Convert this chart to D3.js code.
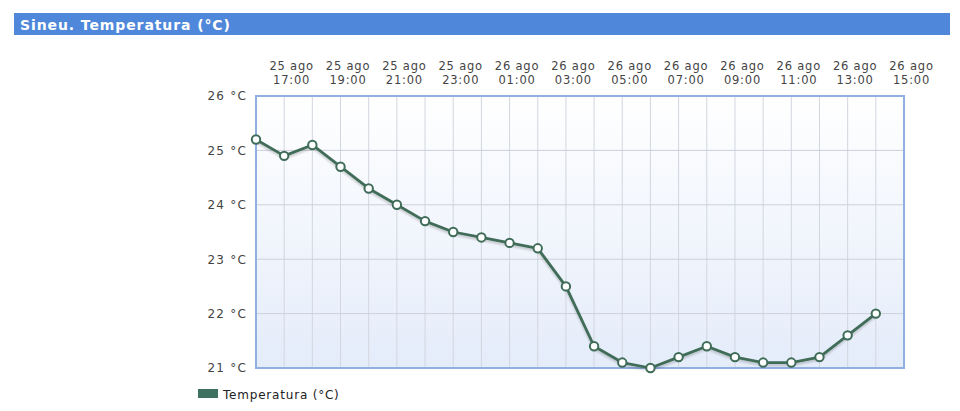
<!DOCTYPE html>
<html><head><meta charset="utf-8">
<script src="https://cdn.jsdelivr.net/npm/d3@7"></script>
<style>body{margin:0;background:#fff;}svg{display:block;}</style>
</head><body>
<script>
const title = "Sineu. Temperatura (°C)";
const seriesName = "Temperatura (°C)";
// hourly readings, 25 ago 16:00 -> 26 ago 14:00
const startTime = new Date(2023, 7, 25, 16, 0);
const endTime = new Date(2023, 7, 26, 15, 0);
const temps = [25.2, 24.9, 25.1, 24.7, 24.3, 24.0, 23.7, 23.5, 23.4, 23.3, 23.2, 22.5, 21.4, 21.1, 21.0, 21.2, 21.4, 21.2, 21.1, 21.1, 21.2, 21.6, 22.0];
const yTicks = [21, 22, 23, 24, 25, 26];
const months = ["ene","feb","mar","abr","may","jun","jul","ago","sep","oct","nov","dic"];

const W = 960, H = 411;
const svg = d3.select("body").append("svg").attr("width", W).attr("height", H);
const font = "'DejaVu Sans', Verdana, sans-serif";

// title bar
svg.append("rect").attr("x", 14).attr("y", 13).attr("width", 936).attr("height", 22).attr("fill", "#4f87da");
svg.append("text").attr("x", 20).attr("y", 29.5).attr("fill", "#fff").attr("font-family", font)
  .attr("font-weight", "bold").attr("font-size", 14).attr("letter-spacing", 0.9).text(title);

const L = 256, R = 904, T = 96, B = 368;
const data = temps.map((v, i) => ({t: d3.timeHour.offset(startTime, i), v}));
const x = d3.scaleTime().domain([startTime, endTime]).range([L, R]);
const y = d3.scaleLinear().domain([21, 26]).range([B, T]);

const defs = svg.append("defs");
const grad = defs.append("linearGradient").attr("id", "bg").attr("x1", 0).attr("y1", 0).attr("x2", 0).attr("y2", 1);
grad.append("stop").attr("offset", "0%").attr("stop-color", "#ffffff");
grad.append("stop").attr("offset", "100%").attr("stop-color", "#e4ecfa");
const filt = defs.append("filter").attr("id", "sh").attr("x", "-10%").attr("y", "-10%").attr("width", "120%").attr("height", "130%");
filt.append("feDropShadow").attr("dx", 0).attr("dy", 2).attr("stdDeviation", 1.2).attr("flood-color", "#000").attr("flood-opacity", 0.2);

svg.append("rect").attr("x", L).attr("y", T).attr("width", R - L).attr("height", B - T).attr("fill", "url(#bg)");

// grid
const hours = d3.timeHour.range(d3.timeHour.offset(startTime, 1), endTime);
svg.append("g").selectAll("line").data(hours).join("line")
  .attr("x1", d => x(d)).attr("x2", d => x(d)).attr("y1", T).attr("y2", B)
  .attr("stroke", "#d2d6de").attr("stroke-width", 1);
svg.append("g").selectAll("line").data(yTicks.slice(1, -1)).join("line")
  .attr("x1", L).attr("x2", R).attr("y1", d => y(d)).attr("y2", d => y(d))
  .attr("stroke", "#cdd0da").attr("stroke-width", 1);

svg.append("rect").attr("x", L).attr("y", T).attr("width", R - L).attr("height", B - T)
  .attr("fill", "none").attr("stroke", "#90b0e2").attr("stroke-width", 2);

// y axis
const yAxis = d3.axisLeft(y).tickValues(yTicks).tickSize(0).tickPadding(9).tickFormat(d => d + " °C");
const gy = svg.append("g").attr("transform", `translate(${L},0)`).call(yAxis);
gy.select(".domain").remove();
gy.selectAll("text").attr("font-family", font).attr("font-size", 12).attr("letter-spacing", 1.2).attr("fill", "#444");

// top axis labels (every 2 hours from 17:00)
const labelTimes = d3.timeHour.range(d3.timeHour.offset(startTime, 1), d3.timeHour.offset(endTime, 1), 2);
const gx = svg.append("g");
const lt = gx.selectAll("text").data(labelTimes).join("text")
  .attr("text-anchor", "middle").attr("font-family", font).attr("font-size", 11.5)
  .attr("letter-spacing", 0.8).attr("fill", "#444");
lt.append("tspan").attr("x", d => x(d) + 7.5).attr("y", 70).text(d => d.getDate() + " " + months[d.getMonth()]);
lt.append("tspan").attr("x", d => x(d) + 7.5).attr("y", 84).text(d => d3.timeFormat("%H:%M")(d));

// line
const line = d3.line().x(d => x(d.t)).y(d => y(d.v));
svg.append("path").datum(data).attr("d", line).attr("fill", "none")
  .attr("stroke", "#3f6c58").attr("stroke-width", 2.8).attr("stroke-linejoin", "round").attr("filter", "url(#sh)");
svg.append("g").selectAll("circle").data(data).join("circle")
  .attr("cx", d => x(d.t)).attr("cy", d => y(d.v)).attr("r", 4.2)
  .attr("fill", "#fff").attr("stroke", "#3f6c58").attr("stroke-width", 2);

// legend
svg.append("rect").attr("x", 198).attr("y", 389).attr("width", 20).attr("height", 9).attr("fill", "#3f7160");
svg.append("text").attr("x", 223).attr("y", 399).attr("font-family", font).attr("font-size", 12)
  .attr("letter-spacing", 0.8).attr("fill", "#222").text(seriesName);
</script>
</body></html>
